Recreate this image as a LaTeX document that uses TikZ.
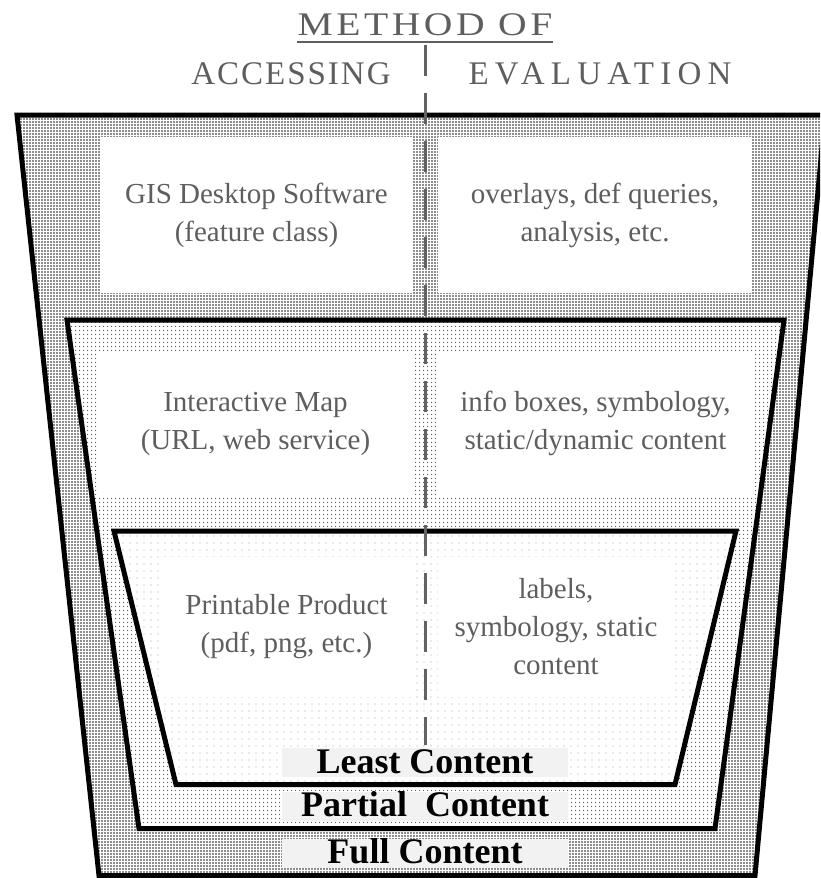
\documentclass[tikz,border=0pt]{standalone}
\usepackage{fontspec}
\setmainfont{Liberation Serif}
\usepackage{tikz}
\usetikzlibrary{patterns.meta}
\definecolor{txtgray}{HTML}{5E5E5E}
\definecolor{dashgray}{HTML}{626262}
\definecolor{labelgray}{HTML}{F2F2F2}

\begin{document}
\begin{tikzpicture}[x=1pt,y=-1pt,line join=miter]
	\tikzstyle{frame}=[draw=black,line width=5pt,preaction={fill=white}]
	\tikzstyle{fullband}=[frame,pattern={Dots[distance=3pt,radius=0.85pt]},pattern color=black!90]
	\tikzstyle{partband}=[frame,pattern={Dots[distance=4pt,radius=0.78pt]},pattern color=black!70]
	\tikzstyle{leastband}=[frame,pattern={Dots[distance=6.5pt,radius=0.72pt]},pattern color=black!35]
	\tikzstyle{cell}=[fill=white,inner sep=0pt,align=center,text=txtgray,font=\fontsize{29}{38}\selectfont]
	\tikzstyle{heading}=[text=txtgray,inner sep=0pt,font=\fontsize{33}{40}\selectfont]
	\tikzstyle{level}=[fill=labelgray,inner xsep=0pt,inner ysep=0pt,minimum width=286pt,text height=25pt,text depth=4pt,font=\fontsize{36}{40}\selectfont\bfseries]
	\tikzstyle{divider}=[draw=dashgray,line width=3pt,dash pattern=on 31pt off 17pt]
	
	\useasboundingbox (0,0) rectangle (820,878);
	\clip (0,0) rectangle (820,878);
	
	% the three funnels
	\draw[fullband] (17,115) -- (825,115) -- (755,875.5) -- (99,875.5) -- cycle;
	\draw[partband] (67,320) -- (784,320) -- (715,828.5) -- (139,828.5) -- cycle;
	\draw[leastband] (114,531) -- (736,531) -- (675,784.5) -- (176,784.5) -- cycle;
	
	% accessing / evaluation cells
	\node[cell,minimum width=313pt,minimum height=156pt] (gis) at (256.5,215) {GIS Desktop Software\\(feature class)};
	\node[cell,minimum width=314pt,minimum height=156pt] (overlays) at (595,215) {overlays, def queries,\\analysis, etc.};
	\node[cell,minimum width=315pt,minimum height=143pt] (imap) at (255.5,423.5) {Interactive Map\\(URL, web service)};
	\node[cell,minimum width=315pt,minimum height=143pt] (infobox) at (595.5,423.5) {info boxes, symbology,\\static/dynamic content};
	\node[cell,minimum width=253pt,minimum height=140pt] (print) at (286.5,627) {Printable Product\\(pdf, png, etc.)};
	\node[cell,minimum width=236pt,minimum height=140pt] (labels) at (556,627) {labels,\\symbology, static\\content};
	
	% headings
	\node[heading,anchor=base] (method) at (425,35) {\scalebox{1.2}[1]{\addfontfeature{LetterSpace=9}METHOD OF}};
	\node[heading,anchor=base] (access) at (291,84) {\addfontfeature{LetterSpace=6}ACCESSING};
	\node[heading,anchor=base] (eval) at (600,84) {\addfontfeature{LetterSpace=19}EVALUATION};
	\draw[txtgray,line width=1.8pt] ([yshift=-7pt]method.base west) -- ([yshift=-7pt]method.base east);
	
	\coordinate (divtop) at (425,45);
	\coordinate (divbot) at (425,745);
	\draw[divider] (divtop) -- (divbot);
	
	% content levels
	\node[level] (least) at (425,762.5) {Least Content};
	\node[level] (partial) at (425,806) {Partial\ \ Content};
	\node[level] (full) at (425,853) {Full Content};
\end{tikzpicture}
\end{document}
